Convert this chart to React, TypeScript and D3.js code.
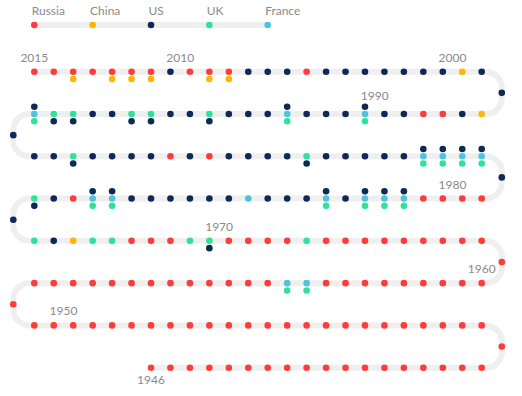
import * as d3 from "d3";

const countries = ["Russia", "China", "US", "UK", "France"];
const codes = ["R", "C", "U", "K", "F"];
const colors = ["#ff3b3b", "#ffb600", "#0c2a57", "#2fe29b", "#4dc3e0"];

// One entry per vetoed draft, in date order. Letters = who vetoed it (top to bottom).
const vetoes1 = ["R", "R", "R", "R", "R", "R", "R", "R", "R", "R", "R", "R", "R", "R", "R", "R", "R", "R", "R"];
const vetoes2 = ["R", "R", "R", "R", "R", "R", "R", "R", "R", "R", "R", "R", "R", "R", "R", "R", "R", "R", "R", "R", "R", "R", "R", "R", "R"];
const vetoes3 = ["R", "R", "R", "R", "R", "R", "R", "R", "R", "R", "R", "R", "R", "FK", "FK", "R", "R", "R", "R", "R", "R", "R", "R", "R", "R"];
const vetoes4 = ["R", "R", "R", "R", "R", "R", "R", "R", "R", "K", "R", "R", "R", "R", "KU", "K", "R", "R", "R", "K", "K", "C", "U", "K", "U"];
const vetoes5 = ["KU", "U", "R", "UFK", "UFK", "U", "U", "U", "U", "U", "U", "F", "U", "U", "U", "UFK", "U", "UFK", "UFK", "UFK", "R", "R", "R", "R", "U"];
const vetoes6 = ["UFK", "UFK", "UFK", "UFK", "U", "U", "U", "U", "U", "KU", "U", "U", "U", "U", "R", "U", "R", "U", "U", "U", "U", "KU", "U", "U", "U"];
const vetoes7 = ["UFK", "KU", "KU", "U", "U", "KU", "KU", "U", "U", "KU", "U", "U", "U", "UFK", "U", "U", "U", "UFK", "U", "U", "R", "R", "U", "C", "U"];
const vetoes8 = ["U", "C", "U", "U", "U", "U", "U", "U", "U", "R", "U", "U", "U", "RC", "RC", "R", "U", "RC", "RC", "RC", "R", "RC", "R", "R"];

// year labels and the (fractional) position in the sequence where they sit
const years = [1946, 1950, 1960, 1970, 1980, 1990, 2000, 2010, 2015];
const yearAt = [0, 40.5, 67, 82.5, 115.5, 161.5, 170.5, 184.5, 192];

const vetoes = [...vetoes1, ...vetoes2, ...vetoes3, ...vetoes4, ...vetoes5, ...vetoes6, ...vetoes7, ...vetoes8];

const width = 522;
const height = 396;
const COLS = 24;
const total = vetoes.length;
const nRows = Math.ceil(total / (COLS + 1));
const R = 16;
const STACK = 7.3;
const dotR = 3.3;
const track = "#efefef";
const textColor = "#8a8a8a";
const font = "Lato, 'Open Sans', sans-serif";

const xCol = d3.scaleLinear().domain([0, COLS - 1]).range([34.3, 481.7]);
const yRow = d3.scaleLinear().domain([0, 7]).range([71.7, 367.7]);
const xLeft = 13.3;
const xRight = 501.8;
const legendY = 25;

const color = d3.scaleOrdinal<string, string>().domain(codes).range(colors);

function slotPos(slot: number) {
  const k = total - 1 - slot;
  const rt = Math.floor(k / (COLS + 1));
  const pos = k - rt * (COLS + 1);
  if (pos < COLS) {
    const col = rt % 2 === 0 ? pos : COLS - 1 - pos;
    return { x: xCol(col), y: yRow(rt), turn: false };
  }
  return { x: rt % 2 === 0 ? xRight : xLeft, y: yRow(rt + 0.5), turn: true };
}

function stackTop(slot: number) {
  const p = slotPos(slot);
  const n = vetoes[slot].length;
  return p.y - Math.floor((n - 1) / 2) * STACK;
}

function trackPath() {
  const p = d3.path();
  const s = slotPos(0);
  p.moveTo(s.x, s.y);
  for (let rt = nRows - 1; rt >= 0; rt--) {
    const yr = yRow(rt);
    const goingRight = rt % 2 === 1;
    const endX = goingRight ? xCol(COLS - 1) : xCol(0);
    if (rt === 0) {
      p.lineTo(endX, yr);
      break;
    }
    const xt = goingRight ? xRight : xLeft;
    const yn = yRow(rt - 1);
    p.arcTo(xt, yr, xt, yn, R);
    p.arcTo(xt, yn, endX, yn, R);
  }
  return p.toString();
}

export default function App() {
  return (
    <svg
      width={width}
      height={height}
      style={{ position: "absolute", left: 0, top: 0, background: "#fff" }}>
      {/* legend */}
      <line
        x1={xCol(0)}
        x2={xCol((countries.length - 1) * 3)}
        y1={legendY}
        y2={legendY}
        stroke={track}
        strokeWidth={6}
        strokeLinecap="round"
      />
      {countries.map((c, i) => (
        <g key={c}>
          <circle cx={xCol(i * 3)} cy={legendY} r={dotR} fill={colors[i]} />
          <text
            x={xCol(i * 3) - 2.6}
            y={15}
            fontSize={12}
            fontFamily={font}
            fill={textColor}>
            {c}
          </text>
        </g>
      ))}

      <path
        d={trackPath()}
        fill="none"
        stroke={track}
        strokeWidth={6}
        strokeLinecap="round"
        strokeLinejoin="round"
      />

      {vetoes.map((v, slot) => {
        const p = slotPos(slot);
        const above = Math.floor((v.length - 1) / 2);
        return (
          <g key={slot}>
            {v.split("").map((c, i) => (
              <circle
                key={i}
                cx={p.x}
                cy={p.y + (i - above) * STACK}
                r={dotR}
                fill={color(c)}
              />
            ))}
          </g>
        );
      })}

      {years.map((yr, i) => {
        const at = yearAt[i];
        const a = slotPos(Math.floor(at));
        const b = slotPos(Math.ceil(at));
        const t = at - Math.floor(at);
        const x = a.x + (b.x - a.x) * t;
        const y = a.y + (b.y - a.y) * t;
        const top = Math.min(stackTop(Math.floor(at)), stackTop(Math.ceil(at)));
        const ty = i === 0 ? y + 16 : Math.min(y - 10, top - 7);
        return (
          <text
            key={yr}
            x={x}
            y={ty}
            textAnchor="middle"
            fontSize={12}
            fontFamily={font}
            fill={textColor}>
            {yr}
          </text>
        );
      })}
    </svg>
  );
}
